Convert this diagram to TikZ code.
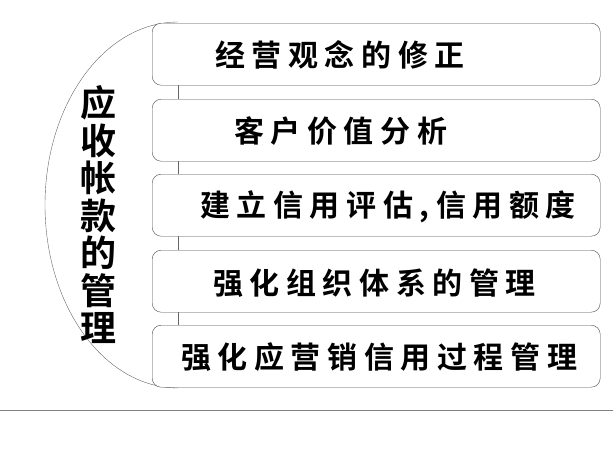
\documentclass[tikz,border=0pt]{standalone}
\usepackage{fontspec}
\newfontfamily\cjk[LetterSpace=22,BoldFont={Noto Sans CJK SC Bold}]{Noto Sans CJK SC}
\newfontfamily\cjkbig[BoldFont={Noto Sans CJK SC Bold}]{Noto Sans CJK SC}
\begin{document}
\begin{tikzpicture}[x=1pt,y=-1pt,
  itembox/.style={draw=black!70,rounded corners=9pt,minimum width=448pt,minimum height=62pt,anchor=north west,fill=white},
  itemtext/.style={anchor=west,font=\cjk\bfseries\fontsize{30}{32}\selectfont,inner sep=0pt}]
\useasboundingbox (0,0) rectangle (613,458);
% arc and spine
\draw[black!60] (178,22) arc[start angle=90,end angle=270,x radius=133pt,y radius=183pt];
\draw[black!60] (178,80) -- (178,330);
% boxes
\node[itembox] (b1) at (152,23) {};
\node[itembox] (b2) at (152,99) {};
\node[itembox] (b3) at (152,174) {};
\node[itembox] (b4) at (152,250) {};
\node[itembox] (b5) at (152,325) {};
\node[itemtext] (t1) at (215,55) {经营观念的修正};
\node[itemtext] (t2) at (234,131) {客户价值分析};
\node[itemtext] (t3) at (200,207) {建立信用评估,信用额度};
\node[itemtext] (t4) at (213,283) {强化组织体系的管理};
\node[itemtext] (t5) at (181,357) {强化应营销信用过程管理};
% title
\node[font=\cjkbig\bfseries\fontsize{36}{37.5}\selectfont,align=center,inner sep=0pt] (title) at (98,215)
  {应\\收\\帐\\款\\的\\管\\理};
\draw[black!50] (0,410) -- (613,410);
\end{tikzpicture}
\end{document}
